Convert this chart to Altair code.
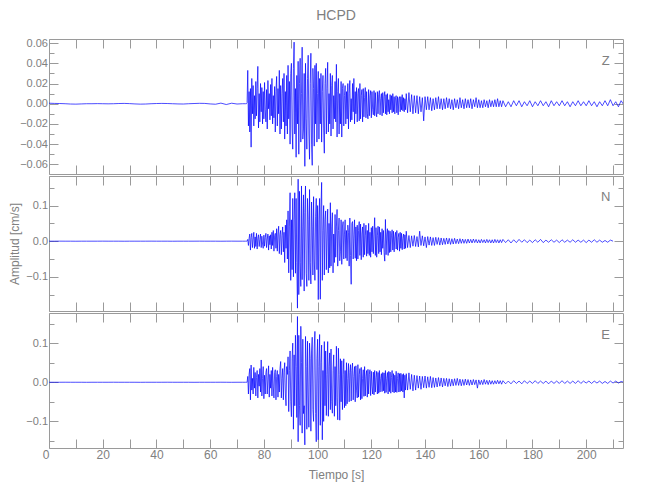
import altair as alt
import numpy as np
import pandas as pd

# ---------------- data: ground velocity, units of 0.001 cm/s ----------------
# pre: every 2 s from t=0 | act1: every 0.25 s from t=73 | act2: every 0.5 s from t=133
# tail: every 1 s from t=169
z_pre = [0.5, 0.3, 0.2, 0, -0.3, -0.4, -0.2, 0,
         0, 0.1, 0, -0.1, 0, 0.2, 0.3, 0.1,
         -0.2, -0.4, -0.3, 0, 0.2, 0.3, 0.2, 0,
         -0.2, -0.3, 0, 0.2, 0.4, 0.3, -0.2, -0.5,
         0.6, -0.8, 0.5, -0.3, 0]
z_act1 = [0, 0, 0, 1, 33, -22, 12, -28,
          15, -43, 25, -10, 18, -22, 8, -15,
          22, -12, 15, 37, -24, 10, -18, 20,
          -8, 16, -20, 12, -15, 21, -6, -18,
          14, -25, 23, -5, 10, -16, 19, -12,
          25, -20, 8, -14, 17, -28, 12, 27,
          -22, 15, -10, 33, -30, 18, -25, 10,
          25, -18, 30, -35, 12, -22, 28, -30,
          38, -15, 22, -40, 30, 40, -25, -45,
          35, 61, -30, 15, -53, 28, -20, 42,
          -50, 20, 45, -38, 10, 56, -35, -25,
          30, -62, 40, -15, -45, 25, 48, -30,
          -55, 20, 50, -40, -61, 35, 15, -42,
          38, -20, 40, -38, 10, 32, -35, 25,
          -20, 30, -38, 12, 28, -25, -49, 20,
          35, -30, 15, 41, -28, 10, -20, 30,
          -32, 18, 28, -25, 8, -15, 22, -18,
          39, -33, 12, 25, -30, 10, -20, 22,
          -33, 15, 20, -22, 8, 18, -20, 12,
          -15, 20, -25, 10, 23, -18, 5, -16,
          20, -8, 25, -20, 12, -10, 16, -18,
          10, 15, -17, 20, -15, 8, 14, -18,
          15, -13, 6, 16, -14, 12, -10, -15,
          14, -12, 8, 13, -14, 12, -6, -11,
          13, -12, 11, -8, -13, 12, -10, 9,
          13, -11, 5, 10, -12, 11, -9, 7,
          12, -10, 9, -11, 10, -8, 4, -10,
          9, -6, 8, -9, 10, -8, 7, -10,
          6, 8, -9, 7, -11, 5, 7, -8,
          7, -6, 9, -7, 6, -8, 5, -6]
z_act2 = [10, -9, 11, -8, 9, -10, 8, -9,
          8, -10, 7, -8, 6, -17, 7, -6,
          7, -6, 6, -7, 5, -6, 6, -5,
          7, -5, 5, -6, 5, -5, 6, -4,
          5, -5, 4, -6, 5, -4, 4, -5,
          6, -4, 4, -5, 5, -4, 4, -4,
          5, -5, 4, -3, 6, -4, 4, -4,
          3, -4, 4, -3, 3, -4, 4, -3,
          3, -3, 4, -3, 5, -3, 3, -3]
z_tail = [3, -3, 2, -3, 3, -2, 3, -3,
          2, -2, 3, -3, 2, -2, 3, -2,
          2, -3, 3, -2, 2, -2, 3, -2,
          2, -3, 2, -2, 3, -2, 2, -2,
          3, -2, 2, -3, 2, -2, 3, -2,
          4, -2, 2, -3, 3, -1]

n_pre = [0, 0, 0.1, 0, 0, -0.1, 0, 0,
         0, 0, 0.1, 0, 0, 0, -0.1, 0,
         0, 0, 0, 0.1, 0, 0, 0, -0.1,
         0, 0, 0, 0, 0.1, 0, 0, 0,
         -0.1, 0, 0.1, 0, 0]
n_act1 = [0, 0, 0, 0, 5, -12, 8, 20,
          -25, 10, 22, -18, 6, 25, -20, 12,
          -15, 22, -22, 8, 18, -15, 5, 20,
          -18, 14, -8, -20, 17, -14, 10, 22,
          -18, 6, 20, -25, 15, -10, 18, -22,
          25, -12, 30, -28, 15, 22, -20, 35,
          -28, 20, 42, -35, 18, 30, -38, 15,
          40, -30, 25, -60, 45, -20, 60, -50,
          85, -89, 40, 136, -110, 60, -80, 120,
          -100, 60, 136, -90, 120, -60, -188, 174,
          -150, 140, -60, -127, 155, -108, 40, 130,
          -140, 80, 155, -90, -127, 120, 60, -110,
          145, -60, -120, 110, 40, -95, 125, -50,
          -110, 70, 120, -80, 100, -164, 60, 120,
          -163, 90, 165, -110, 30, 100, -95, 60,
          85, -80, 20, 90, -89, 50, -75, 108,
          -70, 40, 80, -89, 20, -60, 75, -45,
          40, 89, -70, 30, 65, -55, -30, 60,
          -65, 40, 55, -50, 20, 60, -48, 30,
          -55, 45, 25, -70, 65, -40, -121, 50,
          55, -50, 20, 60, -48, 40, -55, 45,
          -50, 30, 55, -40, 48, -52, 20, 40,
          -45, 50, -38, 15, 45, -42, 30, -35,
          50, -40, 25, -45, 38, -30, 42, -35,
          20, 66, -40, 38, -45, 15, 42, -35,
          40, -30, 25, -38, 35, -20, 30, -32,
          -56, 61, -38, 20, 35, -40, 30, -32,
          28, -30, 15, 32, -25, 28, -30, 12,
          25, -22, 30, -25, 10, 22, -28, 25,
          -20, 22, -24, 8, 20, -22, 18, -20]
n_act2 = [28, -18, 16, -18, 15, -14, 16, -15,
          13, -16, 28, -12, 15, -13, 12, -18,
          13, -11, 12, -12, 10, -12, 11, -9,
          10, -11, 9, -10, 8, -9, 9, -8,
          8, -9, 7, -8, 8, -7, 6, -7,
          7, -6, 6, -6, 5, -6, 6, -5,
          5, -5, 6, -4, 5, -5, 4, -5,
          5, -4, 4, -5, 5, -4, 4, -5,
          4, -5, 5, -4, 4, -5, 4, -4]
n_tail = [5, -4, 4, -5, 4, -4, 5, -3,
          4, -4, 3, -4, 4, -3, 5, -4,
          3, -3, 4, -3, 3, -4, 4, -3,
          3, -3, 4, -3, 3, -3, 3, -4,
          3, -3, 4, -3, 3, -3, 2, -3,
          3, 0]

e_pre = [0, 0, 0, 0.1, 0, 0, 0, -0.1,
         0, 0, 0, 0, 0.1, 0, 0, 0,
         0, -0.1, 0, 0, 0, 0, 0.1, 0,
         0, 0, 0, -0.1, 0, 0, 0, 0,
         0.1, 0, -0.1, 0, 0]
e_act1 = [0, 0, 0, 0, 15, -30, 20, 35,
          -45, 44, -20, 10, -30, 38, -15, 25,
          -35, 12, 30, -40, 20, -10, 35, -25,
          57, -35, 10, 40, -42, 18, -30, 25,
          35, -30, 8, 42, -38, 20, -15, 30,
          -35, 38, -12, -40, 25, 32, -45, 15,
          30, -38, 20, -25, 35, 53, -40, 10,
          35, -45, 25, 50, -30, -60, 40, 20,
          65, -75, 30, 80, -50, -88, 60, 100,
          -120, 70, -60, 120, 40, -90, 168, -152,
          120, -60, -110, 143, 50, -130, 110, -80,
          -60, -160, 117, 40, -120, 105, -30, -115,
          100, 60, -125, 80, 115, -70, -100, 90,
          130, -80, -152, 60, 110, -147, 40, 122,
          -110, 50, 95, -147, 30, -100, 104, -60,
          80, -85, 20, 104, -87, 40, 75, -70,
          85, -50, -79, 30, 70, -87, 40, -60,
          92, -40, -96, 87, 20, -97, 60, -50,
          55, -70, 20, 60, -65, 30, -60, 50,
          -55, 10, 48, -50, 25, 45, -48, 30,
          49, -45, 15, 40, -50, 42, -20, -40,
          45, -38, 20, 35, -45, 38, -42, 10,
          32, -36, 40, -35, 15, 30, -38, 33,
          -30, 20, 32, -34, 28, -10, -30, 26,
          -32, 30, -25, 12, 28, -30, 25, -28,
          30, -25, 10, 22, -24, 25, -22, 24,
          -28, 30, -26, 10, 25, -30, 28, -24,
          26, -28, 12, 30, -25, 22, -27, 18,
          -25, 28, -26, 10, 24, -25, 22, -24,
          23, -22, 20, -25, 22, -40, 18, -20]
e_act2 = [22, -20, 24, -18, 20, -22, 18, -20,
          17, -15, 16, -18, 15, -14, 16, -15,
          14, -13, 15, -14, 12, -13, 11, -12,
          12, -10, 11, -12, 10, -9, 10, -11,
          9, -10, 8, -9, 9, -8, 10, -8,
          8, -9, 7, -8, 8, -7, 7, -8,
          6, -7, 7, -6, 6, -15, 6, -6,
          5, -6, 7, -5, 5, -6, 5, -5,
          4, -5, 4, -4, 5, -4, 4, -5]
e_tail = [4, -4, 3, -4, 4, -3, 3, -4,
          4, -3, 3, -3, 4, -3, 3, -3,
          3, -4, 3, -3, 3, -3, 4, -3,
          3, -3, 3, -3, 4, -3, 3, -2,
          3, -3, 3, -2, 3, -3, 2, -3,
          3, -2, 3, -2, 2, 0]

# axis tick values and ranges
x_major = [0, 20, 40, 60, 80, 100, 120, 140, 160, 180, 200]
x_ticks = [0, 10, 20, 30, 40, 50, 60, 70, 80, 90, 100, 110, 120, 130, 140,
           150, 160, 170, 180, 190, 200, 210]
z_major = [-0.06, -0.04, -0.02, 0.0, 0.02, 0.04, 0.06]
z_minor = [-0.05, -0.03, -0.01, 0.01, 0.03, 0.05]
ne_major = [-0.1, 0.0, 0.1]
ne_minor = [-0.15, -0.05, 0.05, 0.15]
z_dom = [-0.0696, 0.0641]
n_dom = [-0.196, 0.183]
e_dom = [-0.168, 0.177]
x_dom = [0, 213.7]


def build(pre, act1, act2, tail):
    t = np.concatenate([
        np.arange(len(pre)) * 2.0,
        73.0 + 0.25 * np.arange(len(act1)),
        133.0 + 0.5 * np.arange(len(act2)),
        169.0 + np.arange(len(tail)),
    ])
    v = np.array(pre + act1 + act2 + tail, dtype=float) / 1000.0
    return pd.DataFrame({"t": t, "v": v})


FONT = "Liberation Sans"
LBL = "#808080"
FRAME = "#9a9a9a"
W, H = 574, 135


def tick_axis(orient, offset, values, size):
    return alt.Axis(orient=orient, offset=offset, values=values, labels=False,
                    ticks=True, tickSize=size, tickColor=FRAME, tickWidth=1,
                    domain=False, grid=False, title=None)


def panel(df, dom, major, minor, fmt, letter, ly, ytitle=None, bottom=False, title=None):
    xs = alt.Scale(domain=x_dom, nice=False, zero=False)
    ys = alt.Scale(domain=dom, nice=False, zero=False)
    ykw = dict(orient="left", values=major, format=fmt, ticks=False, domain=False,
               grid=False, labelColor=LBL, labelFont=FONT, labelFontSize=11,
               labelPadding=1.5, labelOverlap=False, title=ytitle)
    if ytitle:
        ykw.update(titleColor=LBL, titleFont=FONT, titleFontSize=12,
                   titleFontWeight="normal", titlePadding=4)
    yaxis = alt.Axis(**ykw)
    if bottom:
        xaxis = alt.Axis(orient="bottom", values=x_major, format="d", ticks=False,
                         domain=False, grid=False, labelColor=LBL, labelFont=FONT,
                         labelFontSize=12, labelPadding=1, labelFlush=False,
                         labelOverlap=False,
                         labelAlign={"condition": {"test": "datum.value == 0", "value": "right"},
                                     "value": "center"},
                         title="Tiempo [s]", titleColor=LBL, titleFont=FONT,
                         titleFontSize=12, titleFontWeight="normal", titlePadding=9)
    else:
        xaxis = None
    base = alt.Chart(df)
    line = base.mark_line(color="#0000ff", strokeWidth=0.7, clip=True).encode(
        x=alt.X("t:Q", scale=xs, axis=xaxis),
        y=alt.Y("v:Q", scale=ys, axis=yaxis),
    )
    inv = base.mark_point(opacity=0, size=1)
    l_b = inv.encode(x=alt.X("t:Q", scale=xs, axis=tick_axis("top", -H, x_ticks, 9)),
                     y=alt.Y("v:Q", scale=ys, axis=tick_axis("right", -W, major, 9)))
    l_c = inv.encode(x=alt.X("t:Q", scale=xs, axis=tick_axis("bottom", -H, x_ticks, 9)),
                     y=alt.Y("v:Q", scale=ys, axis=tick_axis("left", -W, major, 9)))
    l_d = inv.encode(x=alt.X("t:Q", scale=xs, axis=None),
                     y=alt.Y("v:Q", scale=ys, axis=tick_axis("right", -W, minor, 5)))
    l_e = inv.encode(x=alt.X("t:Q", scale=xs, axis=None),
                     y=alt.Y("v:Q", scale=ys, axis=tick_axis("left", -W, minor, 5)))
    txt = alt.Chart(pd.DataFrame({"c": [letter]})).mark_text(
        font=FONT, fontSize=13, color=LBL, align="center", baseline="middle"
    ).encode(text="c:N", x=alt.value(W - 17.3), y=alt.value(ly))
    props = dict(width=W, height=H)
    if title:
        props["title"] = alt.TitleParams(title, anchor="middle", frame="group", color=LBL,
                                         font=FONT, fontSize=14, fontWeight="normal",
                                         offset=14)
    return alt.layer(line, l_b, l_c, l_d, l_e, txt).resolve_axis(
        x="independent", y="independent").properties(**props)


pz = panel(build(z_pre, z_act1, z_act2, z_tail), z_dom, z_major, z_minor, ".2f", "Z", 22,
           title="HCPD")
pn = panel(build(n_pre, n_act1, n_act2, n_tail), n_dom, ne_major, ne_minor, ".1f", "N", 20.5,
           ytitle="Amplitud  [cm/s]")
pe = panel(build(e_pre, e_act1, e_act2, e_tail), e_dom, ne_major, ne_minor, ".1f", "E", 21.7,
           bottom=True)

chart = alt.vconcat(pz, pn, pe, spacing=0).properties(
    padding={"left": 0, "top": 0, "right": 5, "bottom": 5}
).configure_view(stroke=FRAME, strokeWidth=1)

chart.save("out.html", embed_options={"renderer": "svg", "actions": False})
